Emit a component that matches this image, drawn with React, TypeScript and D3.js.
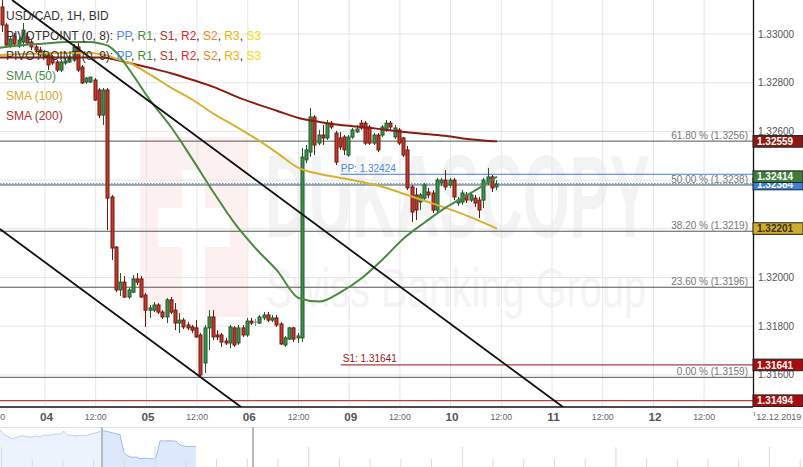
import React from 'react';
import * as d3 from 'd3';

const FONT = '"Liberation Sans", Arial, Helvetica, sans-serif';

// ---------- DATA ----------
const firstHour = -10; // hour index of first candle (0 = 04 Dec 00:00)
// [open, high, low, close]
const ohlc: number[][] = [
  [1.33111, 1.3314, 1.33008, 1.33037],
  [1.33037, 1.33045, 1.32947, 1.32955],
  [1.32951, 1.32992, 1.32943, 1.32979],
  [1.32992, 1.33004, 1.32951, 1.32959],
  [1.32951, 1.32988, 1.32943, 1.32975],
  [1.32967, 1.33045, 1.32947, 1.33016],
  [1.32988, 1.33004, 1.32955, 1.32963],
  [1.32967, 1.32975, 1.32934, 1.32947],
  [1.32947, 1.32955, 1.32922, 1.32934],
  [1.32934, 1.32947, 1.32906, 1.32914],
  [1.3291, 1.32934, 1.32901, 1.32918],
  [1.32914, 1.32922, 1.32852, 1.32873],
  [1.32906, 1.32914, 1.32873, 1.32881],
  [1.32885, 1.32893, 1.32844, 1.32852],
  [1.32852, 1.32893, 1.32844, 1.32885],
  [1.32881, 1.32901, 1.32873, 1.32889],
  [1.32885, 1.32914, 1.32881, 1.32901],
  [1.32893, 1.32959, 1.32885, 1.32947],
  [1.32947, 1.32963, 1.32844, 1.32852],
  [1.32864, 1.32873, 1.32795, 1.32799],
  [1.32803, 1.32823, 1.32795, 1.32819],
  [1.32803, 1.32823, 1.32799, 1.32823],
  [1.32811, 1.32819, 1.32725, 1.32729],
  [1.3277, 1.32778, 1.32655, 1.32667],
  [1.32667, 1.32778, 1.32626, 1.3277],
  [1.3277, 1.32778, 1.32195, 1.32326],
  [1.32331, 1.32339, 1.32072, 1.32121],
  [1.32125, 1.32129, 1.3194, 1.31949],
  [1.31949, 1.32018, 1.31924, 1.31981],
  [1.31981, 1.32006, 1.31916, 1.3192],
  [1.3192, 1.31957, 1.31912, 1.31949],
  [1.3194, 1.3201, 1.31936, 1.31994],
  [1.31994, 1.32018, 1.31969, 1.31981],
  [1.31994, 1.32006, 1.31916, 1.3192],
  [1.31928, 1.31936, 1.31797, 1.31866],
  [1.31866, 1.31887, 1.31834, 1.31875],
  [1.31866, 1.31899, 1.31858, 1.31887],
  [1.31887, 1.31895, 1.3185, 1.31858],
  [1.31858, 1.31866, 1.3183, 1.31838],
  [1.31838, 1.31916, 1.31813, 1.31908],
  [1.31908, 1.3192, 1.3185, 1.31858],
  [1.31866, 1.31895, 1.31784, 1.31813],
  [1.31813, 1.31854, 1.31772, 1.31825],
  [1.31825, 1.31834, 1.31788, 1.31797],
  [1.31805, 1.31817, 1.31784, 1.31793],
  [1.31797, 1.31805, 1.31772, 1.31784],
  [1.31793, 1.31825, 1.31752, 1.31756],
  [1.31764, 1.31772, 1.3159, 1.316],
  [1.31649, 1.31805, 1.31608, 1.31793],
  [1.31793, 1.31866, 1.31702, 1.31838],
  [1.31838, 1.31866, 1.31743, 1.31756],
  [1.31764, 1.31784, 1.31743, 1.31756],
  [1.31764, 1.31772, 1.31715, 1.31735],
  [1.31739, 1.31752, 1.31723, 1.31731],
  [1.31731, 1.31805, 1.3171, 1.31797],
  [1.31793, 1.31801, 1.31715, 1.31723],
  [1.31731, 1.31805, 1.31723, 1.31793],
  [1.31793, 1.31805, 1.31756, 1.31764],
  [1.31764, 1.31834, 1.31756, 1.31821],
  [1.31821, 1.31834, 1.31805, 1.31813],
  [1.31817, 1.3183, 1.31801, 1.31817],
  [1.31813, 1.31846, 1.31809, 1.31838],
  [1.31834, 1.31858, 1.31825, 1.31846],
  [1.31846, 1.31858, 1.31817, 1.31825],
  [1.31825, 1.31846, 1.31817, 1.31834],
  [1.31834, 1.31846, 1.31797, 1.31805],
  [1.31809, 1.31817, 1.31723, 1.31727],
  [1.31723, 1.3176, 1.31715, 1.31752],
  [1.31747, 1.31797, 1.31743, 1.31793],
  [1.31793, 1.31797, 1.31735, 1.31747],
  [1.31752, 1.31772, 1.31731, 1.3176],
  [1.31752, 1.32532, 1.31735, 1.32495],
  [1.32483, 1.32544, 1.3247, 1.32524],
  [1.32515, 1.32696, 1.32495, 1.32659],
  [1.32659, 1.32667, 1.32503, 1.32544],
  [1.32552, 1.32606, 1.32544, 1.32585],
  [1.32585, 1.32626, 1.32544, 1.32573],
  [1.32573, 1.32647, 1.32565, 1.32634],
  [1.32634, 1.32643, 1.3261, 1.32618],
  [1.32593, 1.32602, 1.32462, 1.32474],
  [1.32573, 1.32598, 1.32524, 1.32536],
  [1.32577, 1.32585, 1.32503, 1.32524],
  [1.32503, 1.32585, 1.32495, 1.32577],
  [1.32577, 1.32614, 1.32569, 1.32606],
  [1.32598, 1.32626, 1.32593, 1.3261],
  [1.32634, 1.32647, 1.32606, 1.32614],
  [1.32634, 1.32643, 1.32544, 1.32552],
  [1.32618, 1.32626, 1.32544, 1.32552],
  [1.32552, 1.32593, 1.32544, 1.32585],
  [1.32585, 1.32593, 1.32515, 1.32524],
  [1.32585, 1.32626, 1.32577, 1.32618],
  [1.32606, 1.32647, 1.32598, 1.32634],
  [1.32634, 1.32643, 1.32606, 1.32618],
  [1.32577, 1.32626, 1.32569, 1.32614],
  [1.32606, 1.32614, 1.32544, 1.32552],
  [1.32573, 1.32577, 1.32495, 1.32503],
  [1.32524, 1.3254, 1.32359, 1.32368],
  [1.32372, 1.3238, 1.32228, 1.32269],
  [1.32339, 1.32368, 1.32236, 1.32277],
  [1.3231, 1.32347, 1.32277, 1.32339],
  [1.32326, 1.32388, 1.32318, 1.3238],
  [1.32351, 1.32368, 1.32326, 1.32339],
  [1.32347, 1.32359, 1.32265, 1.32277],
  [1.32277, 1.32409, 1.32265, 1.324],
  [1.32388, 1.32409, 1.32376, 1.324],
  [1.324, 1.32441, 1.32359, 1.32372],
  [1.3238, 1.32409, 1.32368, 1.324],
  [1.324, 1.32409, 1.32318, 1.32331],
  [1.32306, 1.32331, 1.32294, 1.32318],
  [1.3231, 1.32359, 1.32298, 1.32347],
  [1.32339, 1.32351, 1.32306, 1.32318],
  [1.32318, 1.32351, 1.3231, 1.32339],
  [1.32326, 1.32339, 1.32289, 1.32306],
  [1.32318, 1.32331, 1.32244, 1.32277],
  [1.32318, 1.32409, 1.32285, 1.324],
  [1.32392, 1.3245, 1.3238, 1.32413],
  [1.32413, 1.32421, 1.32351, 1.32368],
  [1.32372, 1.324, 1.32359, 1.32384],
];

const smaHours = [-11, -5, 0, 5, 10, 13, 15, 17, 20, 25, 30, 35, 40, 45, 50, 55, 60, 65, 70, 75, 80, 85, 90, 95, 100, 105, 107];
const sma50 = [1.32943, 1.32955, 1.32961, 1.32967, 1.32967, 1.32961, 1.32951, 1.32922, 1.32852, 1.32725, 1.32614, 1.32483, 1.32347, 1.3222, 1.32117, 1.32027, 1.31916, 1.31901, 1.3194, 1.31998, 1.32076, 1.32162, 1.32228, 1.32289, 1.32339, 1.32392, 1.32414];
const sma100 = [1.32914, 1.32918, 1.3292, 1.32922, 1.32922, 1.32918, 1.3291, 1.32897, 1.32881, 1.32832, 1.32778, 1.32729, 1.32671, 1.32622, 1.32569, 1.32511, 1.3245, 1.32425, 1.32409, 1.32392, 1.32372, 1.32343, 1.32314, 1.32285, 1.32253, 1.32216, 1.32201];
const sma200 = [1.32903, 1.32903, 1.32903, 1.32903, 1.32903, 1.32903, 1.32901, 1.32893, 1.32881, 1.3286, 1.32838, 1.32811, 1.32782, 1.32745, 1.32713, 1.32684, 1.32655, 1.32639, 1.32626, 1.32618, 1.32608, 1.32598, 1.32589, 1.32581, 1.32569, 1.32561, 1.32559];

const priceTicks = [1.316, 1.318, 1.32, 1.322, 1.324, 1.326, 1.328, 1.33];
const dayLabels = ['04', '05', '06', '09', '10', '11', '12'];
const dayHours = [0, 24, 48, 72, 96, 120, 144];
const halfDayHours = [-12, 12, 36, 60, 84, 108, 132, 156];
const halfDayLabel = '12:00';
const dateLabel = '12.12.2019';
const dateHour = 168;

const fibNames = ['61.80 %', '50.00 %', '38.20 %', '23.60 %', '0.00 %'];
const fibValues = [1.3256, 1.3238, 1.3219, 1.3196, 1.3159];

const pivotStartHour = 70;
const ppValue = 1.32424;
const s1Value = 1.31641;
const lowLineValue = 1.31494;
const lastPrice = 1.32384;

const trendAHours = [-7.8, 122.6];
const trendAValues = [1.3314, 1.31468];
const trendBHours = [-10.65, 46.4];
const trendBValues = [1.32199, 1.31468];

const navValues = [
  1.32912, 1.32722, 1.32616, 1.32528, 1.32572, 1.32647, 1.32647, 1.32603, 1.32603, 1.32647,
  1.32616, 1.32678, 1.32678, 1.32691, 1.32735, 1.32735, 1.32854, 1.32678, 1.32678, 1.32647,
  1.32678, 1.3266, 1.32691, 1.32749, 1.32793, 1.32837, 1.32881, 1.32837, 1.32793, 1.32749,
  1.32704, 1.3191, 1.31765, 1.31707, 1.31721, 1.31646, 1.31663, 1.31663, 1.31632, 1.31676,
  1.3244, 1.32426, 1.3244, 1.32426, 1.32426, 1.3225, 1.32206, 1.32175, 1.32193, 1.32175,
];

const legendTitle = 'USD/CAD, 1H, BID';
const pivotLegends = ['PIVOTPOINT (0, 8): ', 'PIVOTPOINT (0, 9): '];
const pivotNames = ['PP', 'R1', 'S1', 'R2', 'S2', 'R3', 'S3'];
const smaNames = ['SMA (50)', 'SMA (100)', 'SMA (200)'];

// ---------- STYLE ----------
const W = 803;
const H = 467;
const PLOT_R = 753;
const PLOT_B = 407;
const pivotColors = ['#4d8ff0', '#3d8c3d', '#b32d2d', '#e8262d', '#f5821f', '#f0b400', '#f0e000'];
const smaColors = ['#4a8b3f', '#d7b12f', '#8e1b10'];
const smaLegendColors = ['#4a8b4a', '#d4aa2a', '#b03030'];
const UP_FILL = '#3f9152';
const UP_STROKE = '#215a2b';
const DN_FILL = '#c4392a';
const DN_STROKE = '#6e1a12';

const x = d3.scaleLinear().domain([0, 144]).range([45, 653.4]);
const y = d3.scaleLinear().domain([1.316, 1.33]).range([374.9, 34]);

const navX = d3.scaleLinear().domain([0, navValues.length - 1]).range([0, 196]);
const navY = d3.scaleLinear().domain([1.315, 1.33]).range([462, 428]);

export default function App() {
  const gridHours = d3.range(-12, 169, 12);

  const smaLine = (vals: number[]) =>
    d3
      .line<number>()
      .x((_, i) => x(smaHours[i]))
      .y((d) => y(d))
      .curve(d3.curveMonotoneX)(vals) || '';

  const navLine = d3
    .line<number>()
    .x((_, i) => navX(i))
    .y((d) => navY(d))(navValues) || '';
  const navArea = d3
    .area<number>()
    .x((_, i) => navX(i))
    .y0(H)
    .y1((d) => navY(d))(navValues) || '';

  const boxes = [
    { v: 1.32559, fill: '#8b1a12', text: '#fff' },
    { v: lastPrice, fill: '#3a80de', text: '#fff' },
    { v: 1.32414, fill: '#3e7d3a', text: '#fff' },
    { v: 1.32201, fill: '#cfae2e', text: '#3a3000' },
    { v: s1Value, fill: '#a80d0d', text: '#fff' },
    { v: lowLineValue, fill: '#a80d0d', text: '#fff' },
  ];

  const navTicks = d3.range(0, 27);

  return (
    <svg
      width={W}
      height={H}
      style={{ position: 'fixed', left: 0, top: 0, background: '#fff' }}
      fontFamily={FONT}
    >
      <defs>
        <clipPath id="plot">
          <rect x={0} y={0} width={PLOT_R} height={PLOT_B} />
        </clipPath>
        <clipPath id="navL">
          <rect x={0} y={427} width={102} height={40} />
        </clipPath>
        <clipPath id="navR">
          <rect x={102} y={427} width={151} height={40} />
        </clipPath>
      </defs>
      <rect x={0} y={0} width={W} height={H} fill="#fff" />

      <g clipPath="url(#plot)">
        {/* watermark */}
        <rect x={140} y={137} width={107} height={180} fill="#fdf0f0" />
        <rect x={182} y={170} width={23} height={147} fill="#fff" />
        <rect x={158} y={208} width={72} height={39} fill="#fff" />
        <text x={265} y={237} fontSize={117} fontWeight="bold" fill="#f3f3f3" textLength={385} lengthAdjust="spacingAndGlyphs">
          DUKASCOPY
        </text>
        <text x={266} y={307} fontSize={56} fill="#f4f4f4" textLength={380} lengthAdjust="spacingAndGlyphs">
          Swiss Banking Group
        </text>

        {/* grid */}
        {gridHours.map((h) => (
          <line key={'gv' + h} x1={x(h)} x2={x(h)} y1={0} y2={PLOT_B} stroke="#e6e6e6" strokeWidth={1} />
        ))}
        {priceTicks.map((p) => (
          <line key={'gh' + p} x1={0} x2={PLOT_R} y1={y(p)} y2={y(p)} stroke="#e6e6e6" strokeWidth={1} />
        ))}

        {/* fib levels */}
        {fibValues.map((v, i) => (
          <g key={'fib' + i}>
            <line x1={0} x2={PLOT_R} y1={y(v)} y2={y(v)} stroke="#555" strokeWidth={1} />
            <text x={748} y={y(v) - 2} fontSize={10} fill="#777" textAnchor="end">
              {fibNames[i]} ({v.toFixed(4)})
            </text>
          </g>
        ))}

        {/* pivot lines */}
        <line x1={x(pivotStartHour)} x2={PLOT_R} y1={y(ppValue)} y2={y(ppValue)} stroke="#3f7fe6" strokeWidth={1.2} />
        <text x={x(pivotStartHour)} y={y(ppValue) - 2.5} fontSize={10} fill="#4a86e8">
          PP: {ppValue.toFixed(5)}
        </text>
        <line x1={x(pivotStartHour)} x2={PLOT_R} y1={y(s1Value)} y2={y(s1Value)} stroke="#9a1010" strokeWidth={1} />
        <text x={x(pivotStartHour) + 2} y={y(s1Value) - 2.5} fontSize={10} fill="#a01515">
          S1: {s1Value.toFixed(5)}
        </text>
        <line x1={0} x2={PLOT_R} y1={y(lowLineValue)} y2={y(lowLineValue)} stroke="#b00d0d" strokeWidth={1} />

        {/* current price line */}
        <line x1={0} x2={PLOT_R} y1={y(lastPrice)} y2={y(lastPrice)} stroke="#5b9ee8" strokeWidth={1} strokeDasharray="2,1" />
        <line x1={0} x2={PLOT_R} y1={y(lastPrice) - 0.5} y2={y(lastPrice) - 0.5} stroke="#5a9a50" strokeWidth={0.6} strokeDasharray="1,2" />

        {/* candles */}
        {ohlc.map((c, i) => {
          const h = firstHour + i;
          const cx = Math.round(x(h));
          const [o, hi, lo, cl] = c;
          const up = cl > o;
          const doji = cl === o;
          const stroke = doji ? '#888' : up ? UP_STROKE : DN_STROKE;
          const fill = doji ? '#888' : up ? UP_FILL : DN_FILL;
          const top = y(Math.max(o, cl));
          const bot = y(Math.min(o, cl));
          return (
            <g key={'c' + i}>
              <line x1={cx - 0.5} x2={cx - 0.5} y1={y(hi)} y2={y(lo)} stroke={stroke} strokeWidth={1} />
              {doji ? (
                <line x1={cx - 2.5} x2={cx + 1.5} y1={top} y2={top} stroke={stroke} strokeWidth={1} />
              ) : (
                <rect x={cx - 2} y={top} width={3} height={Math.max(bot - top, 1)} fill={fill} stroke={stroke} strokeWidth={1} />
              )}
            </g>
          );
        })}

        {/* SMAs */}
        <path d={smaLine(sma200)} fill="none" stroke={smaColors[2]} strokeWidth={2} />
        <path d={smaLine(sma100)} fill="none" stroke={smaColors[1]} strokeWidth={2} />
        <path d={smaLine(sma50)} fill="none" stroke={smaColors[0]} strokeWidth={2} />

        {/* trend lines */}
        <line x1={x(trendAHours[0])} y1={y(trendAValues[0])} x2={x(trendAHours[1])} y2={y(trendAValues[1])} stroke="#111" strokeWidth={1.8} />
        <line x1={x(trendBHours[0])} y1={y(trendBValues[0])} x2={x(trendBHours[1])} y2={y(trendBValues[1])} stroke="#111" strokeWidth={1.8} />
      </g>

      {/* legend */}
      <g fontSize={12}>
        <text x={6} y={19.5} fill="#333">{legendTitle}</text>
        {pivotLegends.map((lab, li) => (
          <text key={'pl' + li} x={6} y={39.5 + li * 20} fill="#333">
            {lab}
            {pivotNames.map((n, ni) => (
              <React.Fragment key={n}>
                <tspan fill={pivotColors[ni]}>{n}</tspan>
                {ni < pivotNames.length - 1 ? <tspan fill="#333">, </tspan> : null}
              </React.Fragment>
            ))}
          </text>
        ))}
        {smaNames.map((n, i) => (
          <text key={n} x={6} y={79.5 + i * 20.3} fill={smaLegendColors[i]}>
            {n}
          </text>
        ))}
      </g>

      {/* axes */}
      <line x1={PLOT_R + 0.5} x2={PLOT_R + 0.5} y1={0} y2={PLOT_B} stroke="#111" strokeWidth={1.3} />
      <line x1={0} x2={PLOT_R} y1={PLOT_B} y2={PLOT_B} stroke="#111" strokeWidth={1.3} />

      {priceTicks.map((p) => (
        <text key={'yt' + p} x={758} y={y(p) + 3.5} fontSize={10} fill="#555">
          {p.toFixed(5)}
        </text>
      ))}

      {dayHours.map((h, i) => (
        <text key={'d' + h} x={x(h) + 1.5} y={421} fontSize={11.7} fontWeight="bold" fill="#555" textAnchor="middle">
          {dayLabels[i]}
        </text>
      ))}
      {halfDayHours.map((h) => (
        <text key={'hd' + h} x={x(h)} y={419.5} fontSize={8.7} fill="#666" textAnchor="middle">
          {halfDayLabel}
        </text>
      ))}
      <line x1={x(dateHour) - 0.5} x2={x(dateHour) - 0.5} y1={412} y2={416} stroke="#888" strokeWidth={1} />
      <text x={x(dateHour) + 1.5} y={419.5} fontSize={9} fill="#666">
        {dateLabel}
      </text>

      {/* price boxes */}
      {boxes.map((b, i) => (
        <g key={'b' + i}>
          <rect x={PLOT_R} y={y(b.v) - 5.8} width={W - PLOT_R} height={11.6} fill={b.fill} stroke="#222" strokeWidth={1} />
          <text x={757} y={y(b.v) + 3.6} fontSize={10} fontWeight="bold" fill={b.text}>
            {b.v.toFixed(5)}
          </text>
        </g>
      ))}

      {/* navigator */}
      <line x1={0} x2={W} y1={427.5} y2={427.5} stroke="#e2e2e2" strokeWidth={1} />
      <g clipPath="url(#navL)">
        <path d={navArea} fill="#edf3fd" />
        <path d={navLine} fill="none" stroke="#bcd3f6" strokeWidth={1} />
      </g>
      <g clipPath="url(#navR)">
        <path d={navArea} fill="#dce8fb" />
        <path d={navLine} fill="none" stroke="#9dbff0" strokeWidth={1} />
      </g>
      {navTicks.map((i) => {
        const tx = 1.5 + i * 30.72;
        const long = i % 5 === 0;
        return <line key={'nt' + i} x1={tx} x2={tx} y1={long ? 447 : 459} y2={H} stroke="#dcdcdc" strokeWidth={1} />;
      })}
      <rect x={101} y={427} width={2} height={40} fill="#b9b9b9" />
      <rect x={252} y={427} width={2} height={40} fill="#b9b9b9" />
    </svg>
  );
}
